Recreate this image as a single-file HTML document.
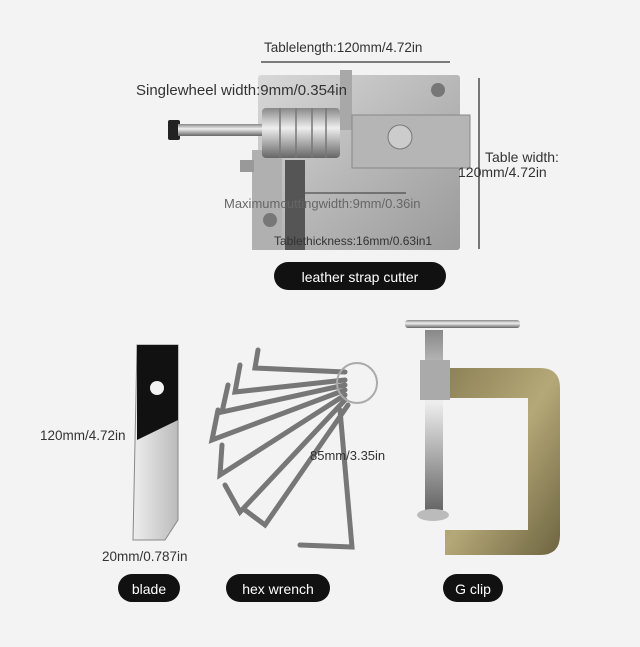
<!DOCTYPE html>
<html><head><style>
html,body{margin:0;padding:0;background:#f3f3f3;}
svg{display:block;font-family:"Liberation Sans",sans-serif;}
</style></head><body>
<svg width="640" height="647" viewBox="0 0 640 647" xmlns="http://www.w3.org/2000/svg">
<defs>
<linearGradient id="met" x1="0" y1="0" x2="1" y2="1"><stop offset="0" stop-color="#d8d8d8"/><stop offset="0.5" stop-color="#b8b8b8"/><stop offset="1" stop-color="#9a9a9a"/></linearGradient>
<linearGradient id="rod" x1="0" y1="0" x2="0" y2="1"><stop offset="0" stop-color="#888"/><stop offset="0.4" stop-color="#eee"/><stop offset="1" stop-color="#666"/></linearGradient>
<linearGradient id="br" x1="0" y1="0" x2="1" y2="1"><stop offset="0" stop-color="#8a7f55"/><stop offset="0.5" stop-color="#b5a878"/><stop offset="1" stop-color="#6d6440"/></linearGradient>
<linearGradient id="bl" x1="0" y1="0" x2="1" y2="0"><stop offset="0" stop-color="#eee"/><stop offset="1" stop-color="#bbb"/></linearGradient>
</defs>
<rect width="640" height="647" fill="#f3f3f3"/>
<rect x="258" y="75" width="202" height="175" fill="url(#met)" rx="3"/>
<rect x="252" y="150" width="30" height="100" fill="#b0b0b0"/>
<circle cx="438" cy="90" r="7" fill="#777"/>
<circle cx="270" cy="220" r="7" fill="#777"/>
<rect x="285" y="160" width="20" height="90" fill="#555"/>
<rect x="340" y="70" width="12" height="60" fill="#a8a8a8"/>
<rect x="168" y="120" width="12" height="20" fill="#222" rx="2"/>
<rect x="178" y="124" width="88" height="12" fill="url(#rod)"/>
<rect x="262" y="108" width="78" height="50" fill="url(#rod)" rx="4"/>
<g stroke="#777" stroke-width="1.5"><line x1="280" y1="108" x2="280" y2="158"/><line x1="296" y1="108" x2="296" y2="158"/><line x1="312" y1="108" x2="312" y2="158"/><line x1="326" y1="108" x2="326" y2="158"/></g>
<rect x="352" y="115" width="118" height="53" fill="#b5b5b5" stroke="#888"/>
<circle cx="400" cy="137" r="12" fill="#ccc" stroke="#777"/>
<rect x="240" y="160" width="14" height="12" fill="#999"/>
<g font-size="13.5" fill="#333">
<text x="264" y="52">Tablelength:120mm/4.72in</text>
<text x="136" y="95" font-size="15">Singlewheel width:9mm/0.354in</text>
<text x="485" y="162" font-size="14">Table width:</text>
<text x="458" y="177" font-size="14">120mm/4.72in</text>
<text x="224" y="208" fill="#666" font-size="13">Maximumcuttingwidth:9mm/0.36in</text>
<text x="274" y="245" font-size="12">Tablethickness:16mm/0.63in1</text>
</g>
<line x1="261" y1="62" x2="450" y2="62" stroke="#333" stroke-width="1.3"/>
<line x1="479" y1="78" x2="479" y2="249" stroke="#333" stroke-width="1.3"/>
<line x1="305" y1="193" x2="406" y2="193" stroke="#333" stroke-width="1"/>
<rect x="274" y="262" width="172" height="28" rx="14" fill="#111"/>
<text x="360" y="282" fill="#fff" font-size="14" text-anchor="middle">leather strap cutter</text>
<polygon points="137,345 178,345 178,520 165,540 133,540" fill="url(#bl)" stroke="#888"/>
<polygon points="137,345 178,345 178,420 137,440" fill="#111"/>
<circle cx="157" cy="388" r="7" fill="#f3f3f3"/>
<text x="40" y="440" font-size="13.5" fill="#333">120mm/4.72in</text>
<text x="102" y="561" font-size="13.5" fill="#333">20mm/0.787in</text>
<rect x="118" y="574" width="62" height="28" rx="14" fill="#111"/>
<text x="149" y="594" fill="#fff" font-size="14" text-anchor="middle">blade</text>
<g stroke="#777" stroke-width="5" fill="none" stroke-linecap="round">
<polyline points="258,350 255,368 345,372"/>
<polyline points="240,365 235,392 345,380"/>
<polyline points="228,385 222,412 345,385"/>
<polyline points="218,410 212,440 345,390"/>
<polyline points="222,445 220,475 345,395"/>
<polyline points="225,485 240,512 345,400"/>
<polyline points="245,510 265,525 348,405"/>
<polyline points="300,545 352,547 340,410"/>
</g>
<circle cx="357" cy="383" r="20" fill="none" stroke="#aaa" stroke-width="2"/>
<text x="310" y="460" font-size="13" fill="#333">85mm/3.35in</text>
<rect x="226" y="574" width="104" height="28" rx="14" fill="#111"/>
<text x="278" y="594" fill="#fff" font-size="14" text-anchor="middle">hex wrench</text>
<path d="M440,368 L540,368 Q560,368 560,388 L560,535 Q560,555 540,555 L445,555 L445,530 L528,530 L528,398 L440,398 Z" fill="url(#br)"/>
<rect x="405" y="320" width="115" height="8" rx="3" fill="url(#rod)"/>
<rect x="425" y="330" width="18" height="180" fill="url(#rod)"/>
<rect x="420" y="360" width="30" height="40" fill="#aaa"/>
<ellipse cx="433" cy="515" rx="16" ry="6" fill="#bbb"/>
<rect x="443" y="574" width="60" height="28" rx="14" fill="#111"/>
<text x="473" y="594" fill="#fff" font-size="14" text-anchor="middle">G clip</text>
</svg>
</body></html>
